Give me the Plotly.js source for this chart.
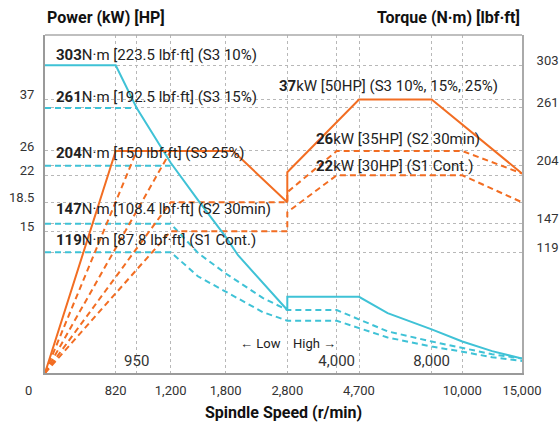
<!DOCTYPE html>
<html>
<head>
<meta charset="utf-8">
<script src="https://cdn.plot.ly/plotly-3.0.1.min.js"></script>
<style>
html,body{margin:0;padding:0;background:#fff;}
#chart{width:559px;height:426px;}
</style>
</head>
<body>
<div id="chart"></div>
<script>
// ---------- Data ----------
// Speed axis ticks (r/min)
const speedTicksOuter = [820, 1200, 1800, 2800, 4700, 10000, 15000];
const speedTickTextOuter = ['820', '1,200', '1,800', '2,800', '4,700', '10,000', '15,000'];
const speedTicksInner = [950, 4000, 8000];
const speedTickTextInner = ['950', '4,000', '8,000'];
// Power axis ticks (kW) and torque axis ticks (N·m)
const powerTicks = [15, 18.5, 22, 26, 37];
const torqueTicks = [119, 147, 204, 261, 303];

// Torque curves (N·m)
const tqS3_10_speed = [0, 820, 950, 1200, 1500, 1800, 2000, 2400, 2800, 2800, 4700, 6000, 8000, 10000, 12500, 15000];
const tqS3_10       = [303, 303, 261, 207, 170, 134, 116, 89, 62, 75, 75, 59, 43, 31, 21.5, 14.2];
const tqS3_15_speed = [0, 950];
const tqS3_15       = [261, 261];
const tqS3_25_speed = [0, 1200];
const tqS3_25       = [204, 204];
const tqS2_speed    = [0, 1200, 1500, 1800, 2400, 2800, 4000, 6000, 8000, 10000, 12500, 15000];
const tqS2          = [147, 147, 118, 98, 74, 62, 62, 41, 31, 25, 18.5, 14.2];
const tqS1_speed    = [0, 1200, 1500, 1800, 2400, 2800, 4000, 6000, 8000, 10000, 12500, 15000];
const tqS1          = [119, 119, 95, 80, 60, 51.5, 51.5, 35, 26, 21, 15.5, 11.8];

// Power curves (kW)
const pwS3_speed    = [0, 820, 1920, 2800, 2800, 4700, 8000, 15000];
const pwS3          = [0, 26, 26, 18.5, 22.5, 37, 37, 22.3];
const pwS3_15_speed = [0, 950];
const pwS3_15       = [0, 26];
const pwS3_25_speed = [0, 1200];
const pwS3_25       = [0, 26];
const pwS2_speed    = [0, 1200, 2800, 2800, 4000, 10000, 15000];
const pwS2          = [0, 18.5, 18.5, 19.8, 26, 26, 22.3];
const pwS1_speed    = [0, 1200, 2800, 2800, 4000, 10000, 15000];
const pwS1          = [0, 15, 15, 17.3, 22, 22, 18.5];

// ---------- Axis scales of the original (non-uniform) ----------
// speed -> horizontal axis units
const speedScaleIn  = [0, 820, 950, 1200, 1800, 2800, 4000, 4700, 8000, 10000, 15000];
const speedScaleOut = [0, 70.7, 91.7, 125.7, 180.7, 242.3, 291.7, 314, 386.7, 417.3, 477];
// power (kW) -> vertical axis units (shared with the linear torque scale)
const powerScaleIn  = [0, 15, 18.5, 22, 26, 37];
const powerScaleOut = [0, 139.5, 168.1, 194.7, 218.6, 269.2];

function piecewise(v, xin, xout) {
  for (let i = 0; i < xin.length - 1; i++) {
    if (v <= xin[i + 1] || i === xin.length - 2) {
      const t = (v - xin[i]) / (xin[i + 1] - xin[i]);
      return xout[i] + t * (xout[i + 1] - xout[i]);
    }
  }
  return xout[xout.length - 1];
}
const sx = s => piecewise(s, speedScaleIn, speedScaleOut);
const py = p => piecewise(p, powerScaleIn, powerScaleOut);

const CYAN = '#3fc2d6';
const ORANGE = '#f26d22';
const DASH = '6px,4px';
const FONT = 'Roboto, "Open Sans", sans-serif';

function tq(speed, vals, dash) {
  return {x: speed.map(sx), y: vals, mode: 'lines', xaxis: 'x', yaxis: 'y',
    line: {color: CYAN, width: 2, dash: dash}, hoverinfo: 'skip', showlegend: false};
}
function pw(speed, vals, dash) {
  return {x: speed.map(sx), y: vals.map(py), mode: 'lines', xaxis: 'x', yaxis: 'y',
    line: {color: ORANGE, width: 2, dash: dash}, hoverinfo: 'skip', showlegend: false};
}

const traces = [
  tq(tqS1_speed, tqS1, DASH),
  tq(tqS2_speed, tqS2, DASH),
  tq(tqS3_25_speed, tqS3_25, DASH),
  tq(tqS3_15_speed, tqS3_15, DASH),
  pw(pwS1_speed, pwS1, DASH),
  pw(pwS2_speed, pwS2, DASH),
  pw(pwS3_25_speed, pwS3_25, DASH),
  pw(pwS3_15_speed, pwS3_15, DASH),
  tq(tqS3_10_speed, tqS3_10, 'solid'),
  pw(pwS3_speed, pwS3, 'solid'),
  // anchors for the overlay axes
  {x: [sx(950)], y: [0], xaxis: 'x2', yaxis: 'y', mode: 'markers', marker: {opacity: 0}, hoverinfo: 'skip', showlegend: false},
  {x: [0], y: [0], xaxis: 'x', yaxis: 'y2', mode: 'markers', marker: {opacity: 0}, hoverinfo: 'skip', showlegend: false}
];

const GRID = '#b8b8b8';
const YMAX = 332.8;
const common = {showgrid: true, gridcolor: GRID, gridwidth: 1, griddash: '3px,3px', zeroline: false, ticks: '', fixedrange: true};

const layout = {
  width: 559, height: 426,
  margin: {l: 45, r: 37, t: 35, b: 53, pad: 0},
  paper_bgcolor: '#fff', plot_bgcolor: '#fff',
  font: {family: FONT, color: '#333'},
  showlegend: false,
  xaxis: Object.assign({}, common, {
    range: [0, 477], tickmode: 'array',
    tickvals: speedTicksOuter.map(sx), ticktext: speedTickTextOuter,
    tickfont: {size: 13, color: '#333'},
    showline: true, linecolor: '#9a9a9a', linewidth: 2,
    ticklabelstandoff: 4
  }),
  xaxis2: Object.assign({}, common, {
    range: [0, 477], overlaying: 'x', side: 'bottom', anchor: 'y',
    tickmode: 'array', tickvals: speedTicksInner.map(sx), ticktext: speedTickTextInner,
    ticklabelposition: 'inside', tickfont: {size: 15, color: '#333'},
    showline: false, ticklabelstandoff: 1
  }),
  yaxis: Object.assign({}, common, {
    range: [0, YMAX], tickmode: 'array',
    tickvals: powerTicks.map(py), ticktext: powerTicks.map(String),
    tickfont: {size: 13, color: '#333'},
    showline: true, linecolor: '#9a9a9a', linewidth: 2,
    ticklabelstandoff: 6, ticklabelshift: -5
  }),
  yaxis2: Object.assign({}, common, {
    range: [0, YMAX], overlaying: 'y', side: 'right', anchor: 'x',
    tickmode: 'array', tickvals: torqueTicks, ticktext: torqueTicks.map(String),
    tickfont: {size: 13, color: '#333'},
    showline: true, linecolor: '#aaaaaa', linewidth: 2,
    ticklabelstandoff: 10, ticklabelshift: -5
  }),
  shapes: [
    {type: 'line', xref: 'paper', yref: 'paper', x0: 0, x1: 1, y0: 1, y1: 1, line: {color: '#aaaaaa', width: 1.5}}
  ],
  annotations: []
};

const LBL = {family: FONT, size: 15, color: '#222'};
function lbl(x, y, bold, rest) {
  return {xref: 'x', yref: 'y', x: x, y: y, xanchor: 'left', yanchor: 'middle', showarrow: false,
    text: '<b>' + bold + '</b>' + rest, font: LBL};
}
layout.annotations.push(
  lbl(9, 312.9, '303', 'N·m [223.5 lbf·ft] (S3 10%)'),
  lbl(9, 271.5, '261', 'N·m [192.5 lbf·ft] (S3 15%)'),
  lbl(9, 216.4, '204', 'N·m [150 lbf·ft] (S3 25%)'),
  lbl(9, 161.2, '147', 'N·m [108.4 lbf·ft] (S2 30min)'),
  lbl(9, 130.7, '119', 'N·m [87.8 lbf·ft] (S1 Cont.)'),
  lbl(232, 282.3, '37', 'kW [50HP] (S3 10%, 15%, 25%)'),
  lbl(269, 230.1, '26', 'kW [35HP] (S2 30min)'),
  lbl(269, 203.5, '22', 'kW [30HP] (S1 Cont.)'),
  {xref: 'x', yref: 'y', x: sx(2800) - 4, y: 29.5, xanchor: 'right', yanchor: 'middle', showarrow: false,
   text: '← Low', font: {family: FONT, size: 13, color: '#222'}},
  {xref: 'x', yref: 'y', x: sx(2800) + 4, y: 29.5, xanchor: 'left', yanchor: 'middle', showarrow: false,
   text: 'High →', font: {family: FONT, size: 13, color: '#222'}},
  {xref: 'paper', yref: 'paper', x: 0, y: 0, xshift: -17, yshift: -17, xanchor: 'center', yanchor: 'middle', showarrow: false,
   text: '0', font: {family: FONT, size: 13, color: '#333'}},
  {xref: 'paper', yref: 'paper', x: 0, y: 1, yshift: 18, xanchor: 'left', yanchor: 'middle', showarrow: false,
   text: '<b>Power (kW) [HP]</b>', font: {family: FONT, size: 16, color: '#111'}},
  {xref: 'paper', yref: 'paper', x: 1, y: 1, yshift: 18, xanchor: 'right', yanchor: 'middle', showarrow: false,
   text: '<b>Torque (N·m) [lbf·ft]</b>', font: {family: FONT, size: 16, color: '#111'}},
  {xref: 'paper', yref: 'paper', x: 0.5, y: 0, yshift: -39, xanchor: 'center', yanchor: 'middle', showarrow: false,
   text: '<b>Spindle Speed (r/min)</b>', font: {family: FONT, size: 16, color: '#111'}}
);

Plotly.newPlot('chart', traces, layout, {staticPlot: true, displayModeBar: false});
</script>
</body>
</html>
